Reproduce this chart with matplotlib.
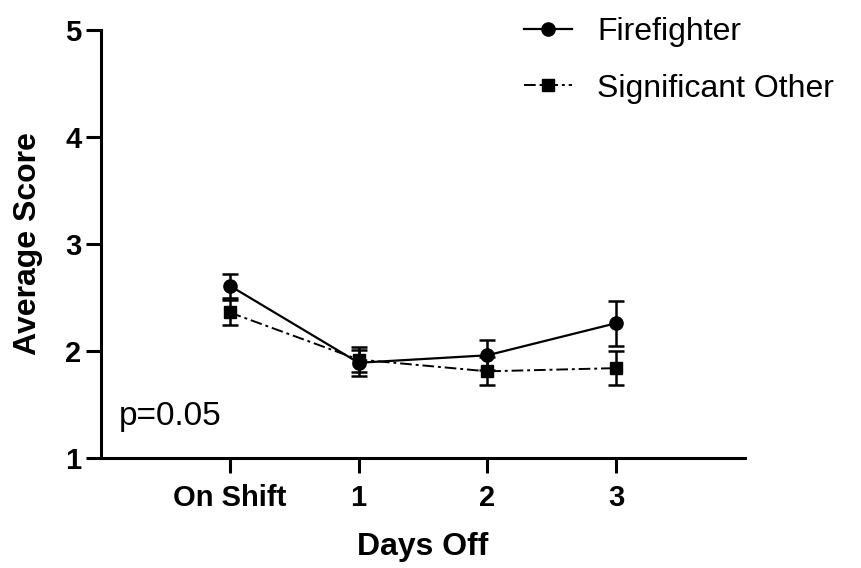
import numpy as np
import matplotlib
matplotlib.use("Agg")
import matplotlib.pyplot as plt

# values
days = ["On Shift", "1", "2", "3"]
ff_mean = [2.61, 1.89, 1.96, 2.26]
ff_err = [0.11, 0.12, 0.14, 0.21]
so_mean = [2.36, 1.92, 1.81, 1.84]
so_err = [0.12, 0.12, 0.13, 0.16]

plt.rcParams["font.family"] = ["Liberation Sans", "DejaVu Sans"]

fig = plt.figure(figsize=(8.61, 5.68), dpi=100)
ax = fig.add_axes([101 / 861, 110 / 568, 644 / 861, 428 / 568])

x = np.arange(len(days))
ax.errorbar(x, ff_mean, yerr=ff_err, color="black", lw=1.6, ls="-",
            marker="o", ms=9.5, capsize=5.5, capthick=1.8, elinewidth=1.8,
            label="Firefighter", zorder=3)
ax.errorbar(x, so_mean, yerr=so_err, color="black", lw=1.4, ls=(0, (6, 2, 1.5, 2)),
            marker="s", ms=9, capsize=5.5, capthick=1.8, elinewidth=1.8,
            label="Significant Other", zorder=3)

ax.set_xlim(-1, 4)
ax.set_ylim(1, 5)
ax.set_xticks(x)
ax.set_xticklabels(days)
ax.set_yticks([1, 2, 3, 4, 5])

for s in ["top", "right"]:
    ax.spines[s].set_visible(False)
for s in ["left", "bottom"]:
    ax.spines[s].set_linewidth(2.2)
ax.tick_params(axis="both", width=2.2, length=11, labelsize=21)
ax.tick_params(axis="x", pad=8)
ax.tick_params(axis="y", pad=3)
for lab in ax.get_xticklabels() + ax.get_yticklabels():
    lab.set_fontweight("bold")

ax.set_xlabel("Days Off", fontsize=23, fontweight="bold", labelpad=14)
ax.set_ylabel("Average Score", fontsize=23, fontweight="bold", labelpad=16)

ax.text(0.027, 0.06, "p=0.05", transform=ax.transAxes, fontsize=24,
        ha="left", va="bottom")

handles, labels = ax.get_legend_handles_labels()
handles = [h[0] for h in handles]
fig.legend(handles, labels, loc="upper left", bbox_to_anchor=(495 / 861, 1.02),
           frameon=False, fontsize=23, handlelength=1.5, labelspacing=0.82,
           handletextpad=0.8)

fig.savefig("out.png", dpi=100)
